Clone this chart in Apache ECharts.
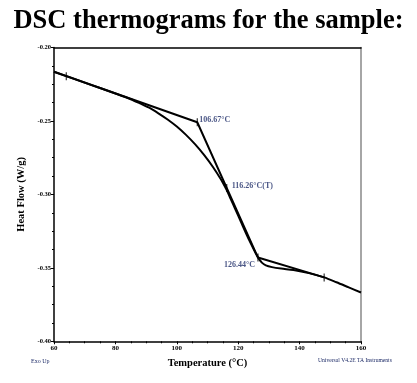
<!DOCTYPE html>
<html><head><meta charset="utf-8">
<script src="https://cdn.jsdelivr.net/npm/echarts@6/dist/echarts.min.js"></script>
<style>html,body{margin:0;padding:0;background:#fff;}#c{width:417px;height:383px;}</style>
</head><body><div id="c"></div>
<script>
const titleText = 'DSC thermograms for the sample:';
const xName = 'Temperature (°C)';
const yName = 'Heat Flow (W/g)';
const xTicks = [60, 80, 100, 120, 140, 160];
const yTicks = [-0.40, -0.35, -0.30, -0.25, -0.20];
// main DSC curve
const curveT = [60, 65, 70, 75, 80, 85, 88, 91, 94, 97, 100, 103, 106, 109, 112, 114, 115, 116.26, 117.5, 119, 121, 123, 124.5, 125.7, 126.7, 127.8, 129, 131, 134, 138, 143, 148, 152, 156, 160];
const curveHF = [-0.2165, -0.2202, -0.2239, -0.2276, -0.2313, -0.2352, -0.2380, -0.2410, -0.2448, -0.2490, -0.2538, -0.2595, -0.2660, -0.2735, -0.2820, -0.2885, -0.2920, -0.2970, -0.3028, -0.3098, -0.3192, -0.3285, -0.3350, -0.3400, -0.3437, -0.3466, -0.3483, -0.3495, -0.3505, -0.3515, -0.3536, -0.3565, -0.3598, -0.3633, -0.3668];
// construction (tangent) lines
const tangentT = [60, 106.67, 126.44, 148];
const tangentHF = [-0.2165, -0.2509, -0.3430, -0.3565];
// analysis markers
const markT = [64, 106.67, 116.26, 126.44, 148];
const markHF = [-0.2195, -0.2509, -0.2956, -0.3430, -0.3565];
const labelT = [106.67, 116.26, 126.44];
const labelHF = [-0.2509, -0.2956, -0.3430];
const labelText = ['106.67°C', '116.26°C(T)', '126.44°C'];

const serif = '"Liberation Serif", "DejaVu Serif", serif';
const navy = '#1c2a66';
const chart = echarts.init(document.getElementById('c'));
chart.setOption({
  animation: false,
  backgroundColor: '#fff',
  title: {
    text: titleText, left: 'center', top: 3,
    textStyle: {fontFamily: serif, fontWeight: 'bold', fontSize: 26.5, color: '#000'}
  },
  graphic: [
    {type: 'text', left: 31, top: 358, style: {text: 'Exo Up', font: '6px ' + serif, fill: navy}},
    {type: 'text', left: 318, top: 358, style: {text: 'Universal V4.2E TA Instruments', font: '5.6px ' + serif, fill: navy}}
  ],
  grid: {left: 54, right: 56, top: 47.5, bottom: 41.7},
  xAxis: [{
    type: 'value', min: xTicks[0], max: xTicks[xTicks.length - 1], interval: 20,
    name: xName, nameLocation: 'middle', nameGap: 16,
    nameTextStyle: {fontFamily: serif, fontWeight: 'bold', fontSize: 10.5, color: '#000'},
    axisLine: {lineStyle: {color: '#000', width: 1.5}},
    axisTick: {inside: false, length: 3, lineStyle: {color: '#000', width: 1}},
    minorTick: {show: true, splitNumber: 4, length: 2, lineStyle: {color: '#000'}},
    axisLabel: {fontFamily: serif, fontWeight: 'bold', fontSize: 7, color: '#000', margin: 3},
    splitLine: {show: false}
  }, {
    type: 'value', position: 'top', min: 60, max: 160,
    axisLine: {show: true, lineStyle: {color: '#000', width: 1.5}},
    axisTick: {show: false}, axisLabel: {show: false}, splitLine: {show: false}
  }],
  yAxis: [{
    type: 'value', min: yTicks[0], max: yTicks[yTicks.length - 1], interval: 0.05,
    name: yName, nameLocation: 'middle', nameGap: 19,
    nameTextStyle: {fontFamily: serif, fontWeight: 'bold', fontSize: 10.5, color: '#000'},
    axisLine: {show: true, lineStyle: {color: '#000', width: 1.5}},
    axisTick: {show: true, inside: false, length: 3, lineStyle: {color: '#000'}},
    minorTick: {show: true, splitNumber: 4, length: 2, lineStyle: {color: '#000'}},
    axisLabel: {fontFamily: serif, fontWeight: 'bold', fontSize: 6.5, color: '#000', margin: 3,
      formatter: v => v.toFixed(2)},
    splitLine: {show: false}
  }, {
    type: 'value', position: 'right', min: -0.40, max: -0.20,
    axisLine: {show: true, lineStyle: {color: '#888', width: 1.5}},
    axisTick: {show: false}, axisLabel: {show: false}, splitLine: {show: false}
  }],
  series: [{
    type: 'line', data: curveT.map((t, i) => [t, curveHF[i]]), smooth: 0.3,
    symbol: 'none', lineStyle: {color: '#000', width: 2}
  }, {
    type: 'line', data: tangentT.map((t, i) => [t, tangentHF[i]]),
    symbol: 'none', lineStyle: {color: '#000', width: 2}
  }, {
    type: 'scatter', data: markT.map((t, i) => [t, markHF[i]]),
    symbol: 'rect', symbolSize: [1.2, 8], itemStyle: {color: '#000'}
  }, {
    type: 'scatter', data: labelT.map((t, i) => ({value: [t, labelHF[i]],
      label: {position: i === 2 ? 'left' : 'right', offset: i === 1 ? [3, -2] : (i === 0 ? [0, -2] : [-1, 7])}})),
    symbolSize: 0, silent: true,
    label: {show: true, formatter: p => labelText[p.dataIndex], fontFamily: serif,
      fontWeight: 'bold', fontSize: 8, color: navy, distance: 2}
  }]
});
</script></body></html>
